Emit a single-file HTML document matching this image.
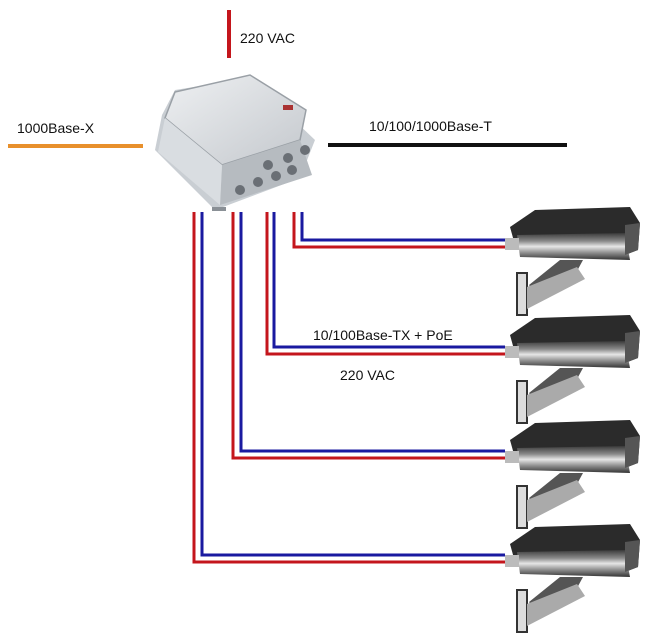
<!DOCTYPE html>
<html><head><meta charset="utf-8"><style>
html,body{margin:0;padding:0;background:#fff;}
svg{display:block;}
text{font-family:"Liberation Sans",Arial,sans-serif;font-size:14px;fill:#111;}
</style></head><body>
<svg width="648" height="641" viewBox="0 0 648 641" xmlns="http://www.w3.org/2000/svg">
<defs>
<linearGradient id="bx" x1="0" y1="0" x2="1" y2="1"><stop offset="0" stop-color="#eef0f2"/><stop offset="1" stop-color="#c4c8cd"/></linearGradient>
<linearGradient id="cam" x1="0" y1="0" x2="0" y2="1"><stop offset="0" stop-color="#3a3a3a"/><stop offset="0.3" stop-color="#8a8a8a"/><stop offset="0.5" stop-color="#e6e6e6"/><stop offset="0.75" stop-color="#888"/><stop offset="1" stop-color="#333"/></linearGradient>
<g id="camera">
<path d="M5,22 L30,5 L125,2 L135,18 L133,45 L120,50 L10,40 Z" fill="#2b2b2b"/>
<path d="M12,30 L120,28 L125,55 L15,52 Z" fill="url(#cam)"/>
<path d="M120,20 L135,18 L133,45 L120,50 Z" fill="#555"/>
<rect x="0" y="33" width="14" height="12" fill="#bbb"/>
<path d="M55,55 L78,55 L72,66 L32,92 L24,80 Z" fill="#555"/>
<rect x="12" y="68" width="10" height="42" fill="#ddd" stroke="#333" stroke-width="2"/>
<path d="M22,82 L72,62 L80,74 L22,104 Z" fill="#aaa"/>
</g>
</defs>
<line x1="229" y1="10" x2="229" y2="58" stroke="#c4161c" stroke-width="4"/>
<text x="240" y="43">220 VAC</text>
<line x1="8" y1="146" x2="143" y2="146" stroke="#e8902c" stroke-width="4"/>
<text x="17" y="133">1000Base-X</text>
<line x1="328" y1="145" x2="567" y2="145" stroke="#111" stroke-width="4"/>
<text x="369" y="131">10/100/1000Base-T</text>
<g>
<path d="M162,115 L155,150 L215,210 L300,178 L315,140 L250,78 L175,90 Z" fill="#c9ced3"/>
<path d="M165,118 L175,92 L250,75 L306,110 L300,140 L222,165 Z" fill="url(#bx)" stroke="#9aa0a6" stroke-width="1.5"/>
<path d="M222,165 L300,140 L312,175 L220,205 Z" fill="#b6bbc0"/>
<path d="M165,118 L222,165 L220,205 L158,152 Z" fill="#d9dde1"/>
<g fill="#6a6f75"><circle cx="240" cy="190" r="5"/><circle cx="258" cy="182" r="5"/><circle cx="276" cy="176" r="5"/><circle cx="292" cy="170" r="5"/><circle cx="268" cy="165" r="5"/><circle cx="288" cy="158" r="5"/><circle cx="305" cy="150" r="5"/></g>
<rect x="283" y="105" width="10" height="5" fill="#a33"/>
<rect x="212" y="207" width="14" height="4" fill="#8a9096"/>
</g>
<g fill="none" stroke-width="3">
<polyline points="294,212 294,247 505,247" stroke="#c4161c"/>
<polyline points="302,212 302,240 505,240" stroke="#1a1aa0"/>
<polyline points="267,212 267,354 505,354" stroke="#c4161c"/>
<polyline points="274,212 274,347 505,347" stroke="#1a1aa0"/>
<polyline points="233,212 233,458 505,458" stroke="#c4161c"/>
<polyline points="241,212 241,451 505,451" stroke="#1a1aa0"/>
<polyline points="194,212 194,562 505,562" stroke="#c4161c"/>
<polyline points="202,212 202,555 505,555" stroke="#1a1aa0"/>
</g>
<text x="313" y="340">10/100Base-TX + PoE</text>
<text x="340" y="380">220 VAC</text>
<use href="#camera" x="505" y="205"/>
<use href="#camera" x="505" y="313"/>
<use href="#camera" x="505" y="418"/>
<use href="#camera" x="505" y="522"/>
</svg>
</body></html>
